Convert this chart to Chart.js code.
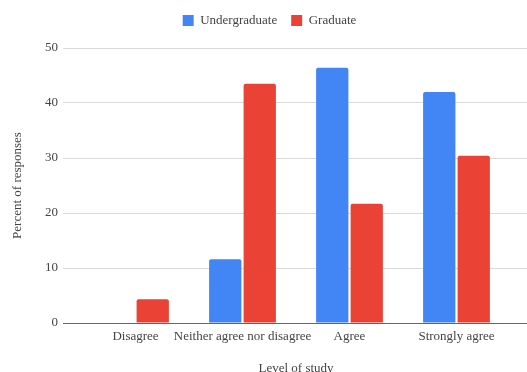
<!DOCTYPE html>
<html>
<head>
<meta charset="utf-8">
<script src="https://cdn.jsdelivr.net/npm/chart.js@4"></script>
<style>
  html, body { margin: 0; padding: 0; background: #fff; }
  #wrap { width: 527px; height: 372px; position: relative; }
</style>
</head>
<body>
<div id="wrap"><canvas id="chart"></canvas></div>
<script>
// survey answers by level of study (percent of responses)
const categories = ['Disagree', 'Neither agree nor disagree', 'Agree', 'Strongly agree'];
const undergraduate = [0, 11.6, 46.4, 42.0];
const graduate = [4.3, 43.5, 21.7, 30.4];
const yTicks = [0, 10, 20, 30, 40, 50];

const FONT = 'Liberation Serif, Georgia, serif';
const TEXT = '#444';
const GRID = '#d9d9d9';
const BASE = '#666';

const gridColor = (c) => (c.tick && c.tick.value === 0 ? BASE : GRID);

// extra room between the legend and the plot, legend nudged right a bit
const legendGap = {
  id: 'legendGap',
  beforeInit(chart) {
    const fit = chart.legend.fit;
    chart.legend.fit = function () {
      fit.call(this);
      this.height += 11;
    };
  },
  afterLayout(chart) {
    chart.legend.left += 12;
  },
};

new Chart(document.getElementById('chart'), {
  type: 'bar',
  data: {
    labels: categories,
    datasets: [
      {
        label: 'Undergraduate',
        data: undergraduate,
        backgroundColor: '#4285f4',
        borderRadius: 2,
        categoryPercentage: 0.645,
        barPercentage: 0.936,
      },
      {
        label: 'Graduate',
        data: graduate,
        backgroundColor: '#ea4335',
        borderRadius: 2,
        categoryPercentage: 0.645,
        barPercentage: 0.936,
      },
    ],
  },
  plugins: [legendGap],
  options: {
    responsive: true,
    maintainAspectRatio: false,
    animation: false,
    layout: { padding: 0 },
    plugins: {
      tooltip: { enabled: false },
      legend: {
        position: 'top',
        labels: {
          boxWidth: 11,
          boxHeight: 11,
          padding: 14,
          color: TEXT,
          font: { family: FONT, size: 13 },
        },
      },
    },
    scales: {
      x: {
        afterFit: (s) => { s.height = 49; },
        grid: { display: false, drawTicks: false },
        border: { display: false },
        ticks: {
          color: TEXT,
          font: { family: FONT, size: 13 },
          maxRotation: 0,
          autoSkip: false,
          padding: 6,
        },
        title: {
          display: true,
          text: 'Level of study',
          color: TEXT,
          font: { family: FONT, size: 13 },
          padding: { top: 0, bottom: -4 },
        },
      },
      y: {
        min: 0,
        max: 50,
        afterBuildTicks: (s) => { s.ticks = yTicks.map((v) => ({ value: v })); },
        afterFit: (s) => { s.width = 82; },
        grid: { color: gridColor, tickColor: gridColor, tickLength: 19, lineWidth: 1 },
        border: { display: false },
        ticks: {
          color: TEXT,
          font: { family: FONT, size: 13 },
          padding: 5,
        },
        title: {
          display: true,
          text: 'Percent of responses',
          color: TEXT,
          font: { family: FONT, size: 13 },
          padding: { top: 10, bottom: 0 },
        },
      },
      // right-hand axis only carries the gridline stubs past the last category
      y2: {
        position: 'right',
        min: 0,
        max: 50,
        afterBuildTicks: (s) => { s.ticks = yTicks.map((v) => ({ value: v })); },
        afterFit: (s) => { s.width = 17; },
        grid: { drawOnChartArea: false, color: gridColor, tickColor: gridColor, tickLength: 17 },
        border: { display: false },
        ticks: { display: false },
      },
    },
  },
});
</script>
</body>
</html>
